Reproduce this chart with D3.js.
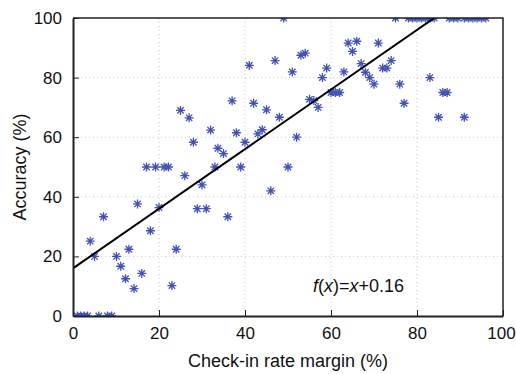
<!DOCTYPE html>
<html>
<head>
<meta charset="utf-8">
<script src="https://cdn.jsdelivr.net/npm/d3@7"></script>
<style>
  body { margin: 0; background: #fff; }
  svg { font-family: "Liberation Sans", Arial, sans-serif; }
</style>
</head>
<body>
<div id="rootDiv"></div>
<script>
// Check-in rate margin (%) vs accuracy (%)
const xValues = [
    1, 1.8, 2.6, 3.4, 6, 8, 9,
    4, 5, 7.1, 10.1, 11.1, 12.2, 13, 14.2, 15, 16, 17.1, 18, 19.2, 20,
    21.2, 22.2, 23, 24, 25, 26, 27, 28, 28.9, 30, 31, 32, 33, 33.7, 35,
    36, 37, 38, 39, 40, 41, 42, 43, 44, 45, 46, 47, 48, 49, 50,
    51, 52, 53, 54, 55, 56, 57, 58, 59, 60, 61, 62, 63, 64, 65,
    66, 67, 68, 69, 70, 71, 72, 73, 74, 75, 76, 77,
    78, 79, 80, 81, 82, 83, 84, 83, 85, 86, 87,
    87.5, 88.5, 89.5, 91, 92, 93, 94, 95, 96, 91
]
const yValues = [
    0, 0, 0, 0, 0, 0, 0,
    25.1, 20, 33.3, 20, 16.7, 12.5, 22.4, 9.2, 37.6, 14.3, 50, 28.6, 50, 36.4,
    50, 50, 10.2, 22.4, 69, 47.1, 66.5, 58.3, 36, 44, 36, 62.4, 50, 56.3, 54.5,
    33.3, 72.2, 61.5, 50, 58.3, 84.1, 71.4, 61.1, 62.5, 69.2, 42, 85.7, 66.7, 100, 50,
    81.9, 60, 87.5, 88.2, 72.7, 72.3, 70, 80, 83.2, 75, 75, 75, 81.9, 91.6, 88.8,
    92.2, 84.7, 81.8, 80, 77.8, 91.6, 83.2, 83.2, 85.7, 100, 77.8, 71.4,
    100, 100, 100, 100, 100, 100, 100, 80, 66.7, 75, 75,
    100, 100, 100, 100, 100, 100, 100, 100, 100, 66.7
]
const xTicks = [0, 20, 40, 60, 80, 100]
const yTicks = [0, 20, 40, 60, 80, 100]
// fitted line f(x) = x + 0.16  (in percent: slope 1, intercept 16)
const fitSlope = 1
const fitIntercept = 16

const W = 516, H = 374
const margin = { top: 18, right: 13, bottom: 58, left: 73 }
const width = W - margin.left - margin.right
const height = H - margin.top - margin.bottom

const x = d3.scaleLinear().domain([0, 100]).range([0, width])
const y = d3.scaleLinear().domain([0, 100]).range([height, 0])

const svgBase = d3.select("#rootDiv").append("svg")
    .attr("width", W)
    .attr("height", H)
const svg = svgBase.append("g").attr("transform", `translate(${margin.left},${margin.top})`)

svg.append("clipPath").attr("id", "plotClip")
    .append("rect").attr("width", width).attr("height", height)

// Grid
const grid = svg.append("g").attr("stroke", "#c8c8c8").attr("stroke-width", 1).attr("stroke-dasharray", "1,3")
grid.selectAll("line.gx").data(xTicks.slice(1, -1)).enter().append("line")
    .attr("x1", d => x(d)).attr("x2", d => x(d)).attr("y1", 0).attr("y2", height)
grid.selectAll("line.gy").data(yTicks.slice(1, -1)).enter().append("line")
    .attr("y1", d => y(d)).attr("y2", d => y(d)).attr("x1", 0).attr("x2", width)

// Points (asterisks)
const star = "M-4.5,0H4.5M0,-4.5V4.5M-3.2,-3.2L3.2,3.2M-3.2,3.2L3.2,-3.2"
const pts = svg.append("g").attr("clip-path", "url(#plotClip)")
pts.selectAll("path").data(xValues.map((d, i) => [d, yValues[i]])).enter().append("path")
    .attr("d", star)
    .attr("transform", d => `translate(${x(d[0])},${y(d[1])})`)
    .attr("fill", "none")
    .attr("stroke", "#4152b4")
    .attr("stroke-width", 1.3)

// Fit line
const fitX = [0, 100]
svg.append("g").attr("clip-path", "url(#plotClip)")
    .append("line")
    .attr("x1", x(fitX[0])).attr("y1", y(fitSlope * fitX[0] + fitIntercept))
    .attr("x2", x(fitX[1])).attr("y2", y(fitSlope * fitX[1] + fitIntercept))
    .attr("stroke", "#000")
    .attr("stroke-width", 2)

// Axes
const xAxis = svg.append("g").attr("transform", `translate(0,${height})`)
    .call(d3.axisBottom(x).tickValues(xTicks).tickSizeInner(-6).tickSizeOuter(0).tickPadding(11))
const yAxis = svg.append("g")
    .call(d3.axisLeft(y).tickValues(yTicks).tickSizeInner(-6).tickSizeOuter(0).tickPadding(11))
for (const axis of [xAxis, yAxis]) {
    axis.selectAll("line").attr("stroke", "#222").attr("stroke-width", 1)
    axis.selectAll("path").attr("stroke", "#222").attr("stroke-width", 2)
    axis.selectAll("text").attr("fill", "#111").style("font-size", "17px")
        .style("font-family", "'Liberation Sans', Arial, sans-serif")
}
// keep the last x label inside the window
xAxis.selectAll(".tick text").filter(d => d === 100).attr("dx", -2)

// top / right border
svg.append("path")
    .attr("d", `M0,0H${width}V${height}`)
    .attr("fill", "none")
    .attr("stroke", "#222")
    .attr("stroke-width", 1.5)

// Labels
svgBase.append("text")
    .attr("x", margin.left + width / 2)
    .attr("y", 367)
    .attr("text-anchor", "middle")
    .attr("font-size", 18)
    .attr("fill", "#111")
    .text("Check-in rate margin (%)")

svgBase.append("text")
    .attr("transform", `translate(26,${margin.top + height / 2}) rotate(-90)`)
    .attr("text-anchor", "middle")
    .attr("font-size", 18)
    .attr("fill", "#111")
    .text("Accuracy (%)")

const eq = svgBase.append("text")
    .attr("x", 313)
    .attr("y", 292)
    .attr("font-size", 18)
    .attr("fill", "#111")
eq.append("tspan").attr("font-style", "italic").text("f")
eq.append("tspan").text("(")
eq.append("tspan").attr("font-style", "italic").text("x")
eq.append("tspan").text(")=")
eq.append("tspan").attr("font-style", "italic").text("x")
eq.append("tspan").text("+0.16")
</script>
</body>
</html>
